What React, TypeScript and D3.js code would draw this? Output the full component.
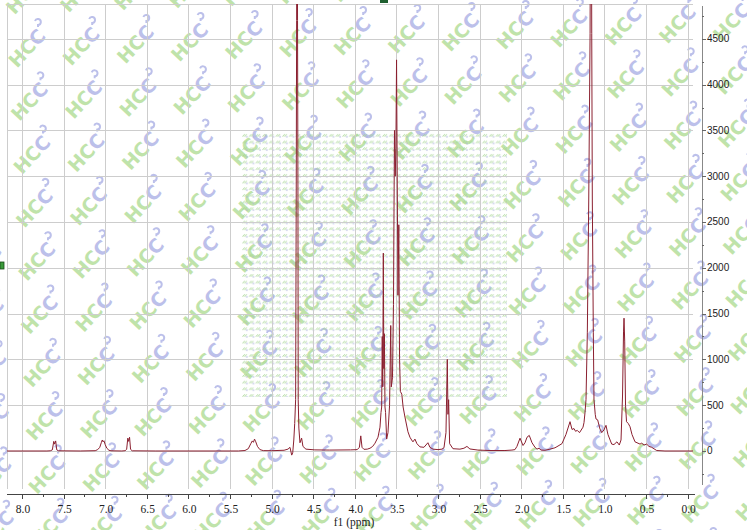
import React from "react";
import * as d3 from "d3";

// ---- Data ----
const ppm = [
  8.18, 7.7, 7.66, 7.635, 7.618, 7.608, 7.595, 7.582, 7.56, 7.3,
  7.12, 7.09, 7.065, 7.045, 7.035, 7.025, 7.015, 7.0, 6.98, 6.955, 6.93,
  6.8, 6.76, 6.742, 6.728, 6.718, 6.707, 6.695, 6.675, 6.4,
  5.4, 5.32, 5.28, 5.25, 5.232, 5.218, 5.205, 5.19, 5.17, 5.14, 5.1, 5.0,
  4.85, 4.803, 4.779, 4.758, 4.746, 4.733, 4.722, 4.711, 4.704, 4.699, 4.696, 4.692,
  4.688, 4.683, 4.68, 4.672, 4.659, 4.639, 4.623, 4.587, 4.48, 4.3, 4.05,
  3.97, 3.945, 3.928, 3.913, 3.89, 3.85, 3.817, 3.785, 3.757, 3.721, 3.697,
  3.685, 3.677, 3.67, 3.664, 3.657, 3.651, 3.644, 3.637, 3.63, 3.617, 3.601,
  3.582, 3.568, 3.561, 3.547, 3.535, 3.523, 3.514, 3.506, 3.498, 3.49, 3.481,
  3.471, 3.462, 3.452, 3.435, 3.419, 3.397, 3.361, 3.337, 3.317, 3.301, 3.277,
  3.253, 3.217, 3.169, 3.121, 3.097, 3.06, 3.0, 2.952, 2.928, 2.904, 2.888,
  2.88, 2.872, 2.86, 2.82, 2.736, 2.688, 2.652, 2.616, 2.52, 2.375, 2.195,
  2.111, 2.075, 2.051, 2.014, 1.978, 1.954, 1.93, 1.903, 1.87, 1.834, 1.81,
  1.786, 1.762, 1.714, 1.654, 1.594, 1.57, 1.51, 1.462, 1.413, 1.389, 1.365,
  1.347, 1.326, 1.299, 1.257, 1.245, 1.233, 1.221, 1.205, 1.188, 1.172, 1.165,
  1.159, 1.152, 1.145, 1.133, 1.125, 1.11, 1.101, 1.081, 1.053, 1.032, 1.005,
  0.981, 0.957, 0.912, 0.885, 0.849, 0.821, 0.8, 0.782, 0.77, 0.764, 0.756,
  0.746, 0.734, 0.713, 0.692, 0.668, 0.632, 0.596, 0.572, 0.552, 0.524, 0.492,
  0.464, 0.431, 0.371, 0.272, -0.07,
];
const intensity = [
  0, 0, 2, 12, 105, 75, 110, 12, 2, 0,
  3, 15, 40, 95, 120, 100, 112, 70, 30, 8, 2,
  0, 3, 18, 140, 105, 150, 18, 2, 0,
  0, 5, 25, 80, 110, 95, 130, 100, 50, 15, 4, 3,
  8, 20, 40, -45, -20, 120, 300, 560, 2740, 4700, 7000, 7000,
  4700, 2740, 560, 250, 90, 140, 50, 20, 12, 10, 12,
  15, 40, 165, 40, 18, 20, 30, 50, 85, 150, 260,
  420, 480, 1250, 700, 2160, 900, 1280, 480, 420, 130, 200,
  500, 1370, 700, 800, 1600, 3500, 3000, 3300, 4270, 3000, 1700,
  2470, 1000, 650, 620, 480, 370, 210, 150, 120, 100, 130,
  80, 45, 40, 90, 40, 20, 15, 20, 35, 200, 1000,
  400, 560, 80, 25, 20, 30, 50, 22, 10, 5, 5,
  10, 15, 50, 140, 60, 90, 150, 170, 90, 40, 20,
  30, 10, 8, 20, 35, 47, 80, 180, 320, 235, 245,
  215, 225, 200, 260, 310, 420, 560, 1290, 2740, 4560, 7000,
  7000, 4560, 2740, 1290, 560, 400, 350, 340, 240, 200, 230,
  280, 180, 75, 70, 100, 65, 120, 600, 1300, 1450, 1200,
  500, 320, 300, 265, 180, 100, 85, 75, 85, 65, 75,
  50, 40, 5, 0, 0,
];
const xTickValues = [8.0, 7.5, 7.0, 6.5, 6.0, 5.5, 5.0, 4.5, 4.0, 3.5, 3.0, 2.5, 2.0, 1.5, 1.0, 0.5, 0.0];
const xTickLabels = ["8.0", "7.5", "7.0", "6.5", "6.0", "5.5", "5.0", "4.5", "4.0", "3.5", "3.0", "2.5", "2.0", "1.5", "1.0", "0.5", "0.0"];
const yTickValues = [0, 500, 1000, 1500, 2000, 2500, 3000, 3500, 4000, 4500];
const yTickLabels = ["0", "500", "1000", "1500", "2000", "2500", "3000", "3500", "4000", "4500"];
const xAxisTitle = "f1 (ppm)";

const W = 747;
const H = 530;
const L = 7, R = 693, T = 4, B = 489;

export default function App() {
  const x = d3.scaleLinear().domain([8.18, -0.065]).range([L, R]);
  const y = d3.scaleLinear().domain([-415, 4880]).range([B, T]);
  const pts: [number, number][] = ppm.map((p, i) => [p, intensity[i]]);
  const line = d3.line<[number, number]>().x((d) => x(d[0])).y((d) => y(d[1]));

  const xMinor = d3.range(0, 33).map((i) => 8 - i * 0.25).filter((v) => Math.abs((v * 2) % 1) > 0.01);
  const yMinor = d3.range(-1, 20).map((i) => i * 500 + 250).filter((v) => y(v) > T + 2 && y(v) < 485);

  // watermark lattice
  const marks: { bx: number; by: number }[] = [];
  for (let r = -1; r < 11; r++) {
    for (let c = -1; c < 15; c++) {
      marks.push({ bx: 37 + 54.2 * c + 2.5 * r, by: 37 - 2 * c + 53.3 * r });
    }
  }

  return (
    <svg width={W} height={H} style={{ position: "absolute", left: 0, top: 0, background: "#fff" }}>
      <defs>
        <clipPath id="plotClip">
          <rect x={L} y={T} width={R - L} height={B - T} />
        </clipPath>
        <pattern id="dots" patternUnits="userSpaceOnUse" width={6.67} height={6.67} x={242} y={132}>
          <path d="M0.6 4.6 L2.6 2.2 M2.6 4.6 L4.6 2.2" stroke="#a3d38e" strokeWidth={0.9} />
          <circle cx={4.8} cy={4.8} r={0.75} fill="#a3aad8" />
        </pattern>
      </defs>

      {/* watermark */}
      <g>
        {marks.map((m, i) => (
          <g key={i}>
            <g transform={`translate(${m.bx},${m.by}) rotate(-47)`}>
              <text x={-7} y={7} textAnchor="end" fontFamily="DejaVu Sans" fontWeight="bold" fontSize={19} fill="#bfe3aa">
                HC
              </text>
              <text x={-7} y={7} fontFamily="DejaVu Sans" fontWeight="bold" fontSize={19} fill="#bcc0ea">
                C
              </text>
            </g>
            <path
              d={`M${m.bx - 2} ${m.by - 16} a3 3 0 1 1 3 4 l0 2`}
              fill="none"
              stroke="#bcc0ea"
              strokeWidth={2}
            />
          </g>
        ))}
      </g>

      {/* dotted texture block */}
      <rect x={242} y={132} width={265} height={265} fill="url(#dots)" />

      {/* grid */}
      <g stroke="#cdcdcd" strokeWidth={1}>
        {xTickValues.map((v) => (
          <line key={"gx" + v} x1={Math.round(x(v)) + 0.5} x2={Math.round(x(v)) + 0.5} y1={T} y2={B} />
        ))}
        {yTickValues.map((v) => (
          <line key={"gy" + v} x1={L} x2={R} y1={Math.round(y(v)) + 0.5} y2={Math.round(y(v)) + 0.5} />
        ))}
        <line x1={L} x2={R} y1={T + 0.5} y2={T + 0.5} />
        <line x1={L + 0.5} x2={L + 0.5} y1={T} y2={B} />
      </g>

      {/* spectrum */}
      <path d={line(pts) || ""} fill="none" stroke="#8b2030" strokeWidth={1} clipPath="url(#plotClip)" />

      {/* x axis */}
      <g>
        <line x1={L} x2={R + 2} y1={494.5} y2={494.5} stroke="#444" />
        {xTickValues.map((v) => (
          <line key={"xt" + v} x1={Math.round(x(v)) + 0.5} x2={Math.round(x(v)) + 0.5} y1={494} y2={499} stroke="#444" />
        ))}
        {xMinor.map((v) => (
          <line key={"xm" + v} x1={Math.round(x(v)) + 0.5} x2={Math.round(x(v)) + 0.5} y1={494} y2={497} stroke="#444" />
        ))}
        {xTickValues.map((v, i) => (
          <text key={"xl" + v} x={x(v) + 1} y={513} textAnchor="middle" fontFamily="Liberation Serif" fontSize={11.5} fill="#222">
            {xTickLabels[i]}
          </text>
        ))}
        <text x={354} y={526} textAnchor="middle" fontFamily="Liberation Serif" fontSize={11.5} fill="#222">
          {xAxisTitle}
        </text>
      </g>

      {/* y axis (right) */}
      <g>
        <line x1={702.5} x2={702.5} y1={6} y2={485} stroke="#888" />
        {yTickValues.map((v) => (
          <line key={"yt" + v} x1={702} x2={706} y1={Math.round(y(v)) + 0.5} y2={Math.round(y(v)) + 0.5} stroke="#666" />
        ))}
        {yMinor.map((v) => (
          <line key={"ym" + v} x1={702} x2={704} y1={Math.round(y(v)) + 0.5} y2={Math.round(y(v)) + 0.5} stroke="#666" />
        ))}
        {yTickValues.map((v, i) => (
          <text key={"yl" + v} x={707} y={y(v) + 3.5} fontFamily="Liberation Sans" fontSize={10} fill="#222">
            {yTickLabels[i]}
          </text>
        ))}
      </g>

      {/* selection handles */}
      <rect x={0} y={262} width={4} height={7} fill="#3a9a3a" stroke="#1b4d1b" strokeWidth={0.8} />
      <rect x={380} y={0} width={8} height={3} fill="#1f5f2f" />
    </svg>
  );
}
